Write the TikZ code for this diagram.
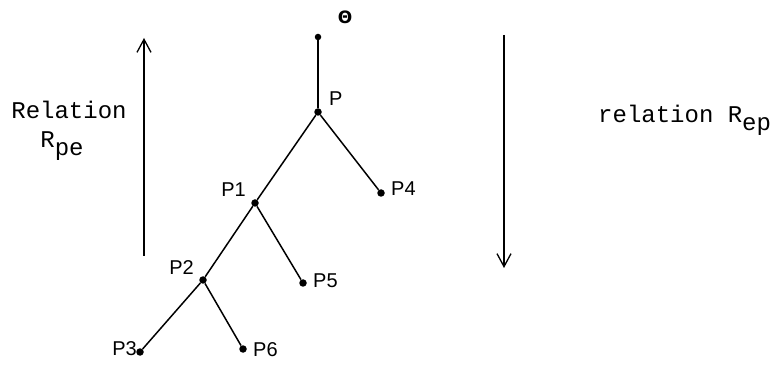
\documentclass[tikz,border=0pt]{standalone}
\usepackage{fontspec}
\setmonofont{Liberation Mono}
\newfontfamily\labfont{Liberation Sans}
\newfontfamily\symfont{DejaVu Sans}
\usetikzlibrary{arrows.meta}
\tikzset{
  pt/.style={circle,fill=black,inner sep=0pt,minimum size=7.5pt},
  edge/.style={line width=1.5pt},
  lab/.style={font=\labfont\fontsize{20}{20}\selectfont,inner sep=1pt},
  txt/.style={font=\ttfamily\fontsize{24}{24}\selectfont,inner sep=0pt},
  bigarrow/.style={line width=1.3pt,-{Straight Barb[length=13pt,width=14pt,line width=1.3pt]}}
}
\newcommand{\lowsub}[1]{\raisebox{-0.35em}{#1}}
\begin{document}
\begin{tikzpicture}[x=1pt,y=-1pt]
\useasboundingbox[fill=white] (0,0) rectangle (779,387);
\node[pt,minimum size=6.5pt] (T) at (318,37) {};
\node[font=\symfont\fontsize{17}{17}\selectfont\bfseries,inner sep=0pt] (Q) at (345,17) {Θ};
\node[pt] (P) at (318,112) {};
\node[pt] (P1) at (255,203) {};
\node[pt] (P4) at (381,193) {};
\node[pt] (P2) at (203,280) {};
\node[pt] (P5) at (303,283) {};
\node[pt] (P3) at (140,352) {};
\node[pt] (P6) at (243,349) {};
\draw[edge] (T) -- (P);
\draw[edge] (P) -- (P1);
\draw[edge] (P) -- (P4);
\draw[edge] (P1) -- (P2);
\draw[edge] (P1) -- (P5);
\draw[edge] (P2) -- (P3);
\draw[edge] (P2) -- (P6);
\node[lab,anchor=west] (lP) at (328,99) {P};
\node[lab,anchor=west] (lP4) at (390,189) {P4};
\node[lab,anchor=east] (lP1) at (247,190) {P1};
\node[lab,anchor=west] (lP5) at (312,281) {P5};
\node[lab,anchor=east] (lP2) at (195,268) {P2};
\node[lab,anchor=east] (lP3) at (138,349) {P3};
\node[lab,anchor=west] (lP6) at (252,350) {P6};
\coordinate (La) at (144,256);
\coordinate (Lb) at (144,38);
\draw[bigarrow] (La) -- (Lb);
\coordinate (Ra) at (504,35);
\coordinate (Rb) at (504,268);
\draw[bigarrow] (Ra) -- (Rb);
\node[txt] (rel) at (69,110) {Relation};
\node[txt] (rpe) at (62,146) {R\lowsub{pe}};
\node[txt,anchor=west] (rep) at (598,120) {relation R\lowsub{ep}};
\end{tikzpicture}
\end{document}
